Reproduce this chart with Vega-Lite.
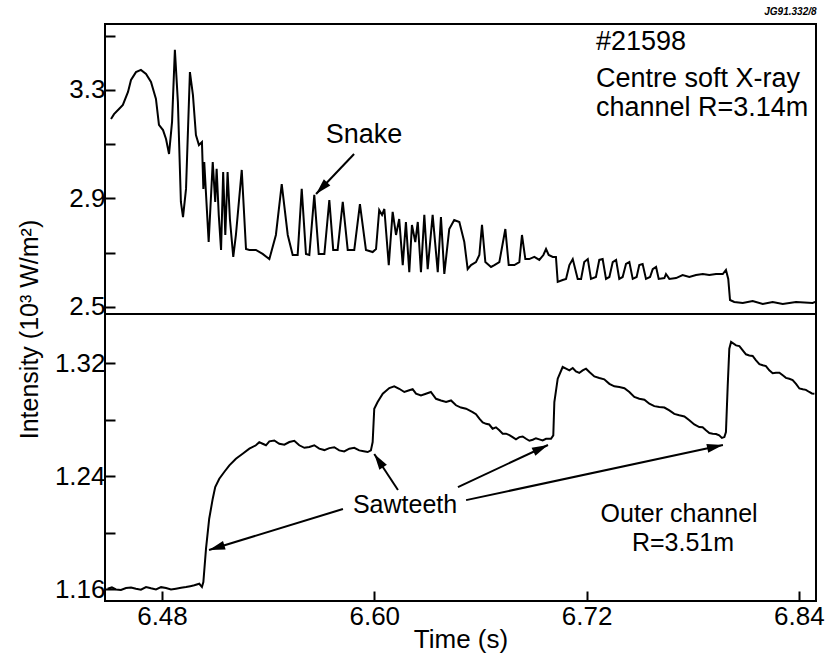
{
  "$schema": "https://vega.github.io/schema/vega-lite/v6.json",
  "background": "white",
  "padding": {"left": 18, "top": 5, "right": 5, "bottom": 5},
  "title": {"text": "Intensity (10³ W/m²)", "orient": "left", "anchor": "middle", "fontSize": 25, "fontWeight": "normal", "font": "Liberation Sans", "color": "black", "offset": 10},
  "config": {
    "font": "Liberation Sans",
    "view": {"stroke": "black", "strokeWidth": 2},
    "axis": {"zindex": 1, "domain": false, "grid": false, "tickColor": "black", "tickWidth": 2, "tickSize": -10, "labelPadding": 10, "labelFontSize": 26, "labelColor": "black", "labelFont": "Liberation Sans", "titleFontSize": 26, "titleFontWeight": "normal", "titleColor": "black", "titleFont": "Liberation Sans", "labelOverlap": false},
    "text": {"font": "Liberation Sans", "color": "black"}
  },
  "datasets": {
    "centre": [
      {"t":6.4512,"v":3.193},{"t":6.4529,"v":3.211},{"t":6.4557,"v":3.230},{"t":6.4579,"v":3.245},{"t":6.4608,"v":3.293},{"t":6.4625,"v":3.337},{"t":6.4653,"v":3.366},{"t":6.4681,"v":3.374},{"t":6.4710,"v":3.359},{"t":6.4738,"v":3.330},{"t":6.4766,"v":3.267},{"t":6.4783,"v":3.171},{"t":6.4806,"v":3.152},{"t":6.4823,"v":3.119},{"t":6.4840,"v":3.064},{"t":6.4857,"v":3.182},{"t":6.4873,"v":3.448},{"t":6.4890,"v":3.256},{"t":6.4907,"v":2.887},{"t":6.4919,"v":2.831},{"t":6.4936,"v":2.935},{"t":6.4958,"v":3.366},{"t":6.4975,"v":3.282},{"t":6.4992,"v":3.134},{"t":6.5009,"v":3.097},{"t":6.5026,"v":3.108},{"t":6.5034,"v":2.935},{"t":6.5039,"v":3.034},{"t":6.5064,"v":2.739},{"t":6.5087,"v":3.034},{"t":6.5101,"v":2.887},{"t":6.5109,"v":3.009},{"t":6.5121,"v":2.839},{"t":6.5134,"v":2.710},{"t":6.5146,"v":2.997},{"t":6.5158,"v":2.765},{"t":6.5171,"v":2.997},{"t":6.5184,"v":2.824},{"t":6.5203,"v":2.684},{"t":6.5218,"v":2.765},{"t":6.5251,"v":3.005},{"t":6.5275,"v":2.713},{"t":6.5294,"v":2.710},{"t":6.5331,"v":2.710},{"t":6.5369,"v":2.695},{"t":6.5407,"v":2.676},{"t":6.5444,"v":2.765},{"t":6.5477,"v":2.953},{"t":6.5511,"v":2.765},{"t":6.5539,"v":2.691},{"t":6.5567,"v":2.691},{"t":6.5590,"v":2.935},{"t":6.5614,"v":2.695},{"t":6.5633,"v":2.691},{"t":6.5661,"v":2.913},{"t":6.5686,"v":2.695},{"t":6.5718,"v":2.695},{"t":6.5746,"v":2.894},{"t":6.5768,"v":2.710},{"t":6.5793,"v":2.710},{"t":6.5822,"v":2.887},{"t":6.5850,"v":2.710},{"t":6.5887,"v":2.710},{"t":6.5919,"v":2.879},{"t":6.5953,"v":2.710},{"t":6.5991,"v":2.702},{"t":6.6010,"v":2.713},{"t":6.6028,"v":2.857},{"t":6.6044,"v":2.839},{"t":6.6057,"v":2.861},{"t":6.6082,"v":2.654},{"t":6.6104,"v":2.850},{"t":6.6123,"v":2.765},{"t":6.6141,"v":2.824},{"t":6.6161,"v":2.654},{"t":6.6179,"v":2.813},{"t":6.6198,"v":2.628},{"t":6.6213,"v":2.802},{"t":6.6232,"v":2.739},{"t":6.6246,"v":2.813},{"t":6.6264,"v":2.628},{"t":6.6283,"v":2.839},{"t":6.6302,"v":2.639},{"t":6.6330,"v":2.839},{"t":6.6359,"v":2.628},{"t":6.6377,"v":2.831},{"t":6.6396,"v":2.621},{"t":6.6424,"v":2.787},{"t":6.6452,"v":2.820},{"t":6.6481,"v":2.813},{"t":6.6509,"v":2.739},{"t":6.6528,"v":2.639},{"t":6.6547,"v":2.654},{"t":6.6575,"v":2.665},{"t":6.6594,"v":2.691},{"t":6.6609,"v":2.802},{"t":6.6628,"v":2.665},{"t":6.6660,"v":2.647},{"t":6.6679,"v":2.654},{"t":6.6707,"v":2.665},{"t":6.6741,"v":2.787},{"t":6.6760,"v":2.654},{"t":6.6792,"v":2.654},{"t":6.6820,"v":2.665},{"t":6.6835,"v":2.765},{"t":6.6854,"v":2.676},{"t":6.6876,"v":2.676},{"t":6.6905,"v":2.684},{"t":6.6933,"v":2.673},{"t":6.6956,"v":2.691},{"t":6.6971,"v":2.713},{"t":6.6986,"v":2.691},{"t":6.7009,"v":2.684},{"t":6.7027,"v":2.684},{"t":6.7037,"v":2.592},{"t":6.7065,"v":2.599},{"t":6.7084,"v":2.603},{"t":6.7103,"v":2.654},{"t":6.7122,"v":2.676},{"t":6.7150,"v":2.603},{"t":6.7169,"v":2.603},{"t":6.7187,"v":2.665},{"t":6.7207,"v":2.676},{"t":6.7225,"v":2.603},{"t":6.7253,"v":2.610},{"t":6.7272,"v":2.673},{"t":6.7291,"v":2.676},{"t":6.7310,"v":2.603},{"t":6.7329,"v":2.610},{"t":6.7348,"v":2.665},{"t":6.7367,"v":2.673},{"t":6.7385,"v":2.603},{"t":6.7404,"v":2.610},{"t":6.7423,"v":2.658},{"t":6.7442,"v":2.665},{"t":6.7461,"v":2.603},{"t":6.7483,"v":2.610},{"t":6.7498,"v":2.654},{"t":6.7517,"v":2.658},{"t":6.7536,"v":2.603},{"t":6.7559,"v":2.610},{"t":6.7574,"v":2.639},{"t":6.7593,"v":2.647},{"t":6.7608,"v":2.603},{"t":6.7640,"v":2.606},{"t":6.7649,"v":2.621},{"t":6.7668,"v":2.603},{"t":6.7706,"v":2.606},{"t":6.7743,"v":2.617},{"t":6.7781,"v":2.610},{"t":6.7819,"v":2.617},{"t":6.7857,"v":2.621},{"t":6.7894,"v":2.617},{"t":6.7932,"v":2.621},{"t":6.7970,"v":2.621},{"t":6.7988,"v":2.636},{"t":6.8001,"v":2.603},{"t":6.8011,"v":2.525},{"t":6.8035,"v":2.518},{"t":6.8083,"v":2.514},{"t":6.8139,"v":2.521},{"t":6.8196,"v":2.510},{"t":6.8252,"v":2.518},{"t":6.8309,"v":2.510},{"t":6.8384,"v":2.518},{"t":6.8478,"v":2.514},{"t":6.8493,"v":2.518}
    ],
    "outer": [
      {"t":6.4493,"v":1.1603},{"t":6.4517,"v":1.1612},{"t":6.4540,"v":1.1598},{"t":6.4568,"v":1.1594},{"t":6.4597,"v":1.1608},{"t":6.4625,"v":1.1612},{"t":6.4653,"v":1.1603},{"t":6.4681,"v":1.1596},{"t":6.4710,"v":1.1615},{"t":6.4738,"v":1.1606},{"t":6.4766,"v":1.1598},{"t":6.4795,"v":1.1614},{"t":6.4823,"v":1.1608},{"t":6.4851,"v":1.1597},{"t":6.4879,"v":1.1603},{"t":6.4908,"v":1.1609},{"t":6.4936,"v":1.1615},{"t":6.4960,"v":1.1621},{"t":6.4983,"v":1.1627},{"t":6.5011,"v":1.1638},{"t":6.5026,"v":1.1615},{"t":6.5034,"v":1.1650},{"t":6.5049,"v":1.1886},{"t":6.5067,"v":1.2098},{"t":6.5087,"v":1.2240},{"t":6.5101,"v":1.2322},{"t":6.5124,"v":1.2381},{"t":6.5152,"v":1.2429},{"t":6.5181,"v":1.2476},{"t":6.5218,"v":1.2523},{"t":6.5256,"v":1.2558},{"t":6.5294,"v":1.2594},{"t":6.5331,"v":1.2618},{"t":6.5350,"v":1.2640},{"t":6.5369,"v":1.2629},{"t":6.5388,"v":1.2618},{"t":6.5407,"v":1.2646},{"t":6.5435,"v":1.2652},{"t":6.5463,"v":1.2629},{"t":6.5492,"v":1.2622},{"t":6.5520,"v":1.2641},{"t":6.5548,"v":1.2650},{"t":6.5576,"v":1.2618},{"t":6.5605,"v":1.2600},{"t":6.5633,"v":1.2606},{"t":6.5661,"v":1.2618},{"t":6.5689,"v":1.2594},{"t":6.5718,"v":1.2584},{"t":6.5746,"v":1.2598},{"t":6.5774,"v":1.2604},{"t":6.5802,"v":1.2582},{"t":6.5830,"v":1.2574},{"t":6.5859,"v":1.2594},{"t":6.5887,"v":1.2600},{"t":6.5915,"v":1.2582},{"t":6.5940,"v":1.2576},{"t":6.5963,"v":1.2570},{"t":6.5981,"v":1.2582},{"t":6.5991,"v":1.2641},{"t":6.6000,"v":1.2877},{"t":6.6019,"v":1.2924},{"t":6.6048,"v":1.2983},{"t":6.6085,"v":1.3023},{"t":6.6113,"v":1.3035},{"t":6.6141,"v":1.3018},{"t":6.6170,"v":1.2995},{"t":6.6198,"v":1.3007},{"t":6.6217,"v":1.3015},{"t":6.6236,"v":1.2983},{"t":6.6264,"v":1.2970},{"t":6.6292,"v":1.2983},{"t":6.6320,"v":1.2995},{"t":6.6349,"v":1.2947},{"t":6.6377,"v":1.2935},{"t":6.6406,"v":1.2924},{"t":6.6434,"v":1.2935},{"t":6.6462,"v":1.2901},{"t":6.6490,"v":1.2885},{"t":6.6519,"v":1.2877},{"t":6.6556,"v":1.2853},{"t":6.6575,"v":1.2838},{"t":6.6594,"v":1.2806},{"t":6.6613,"v":1.2780},{"t":6.6632,"v":1.2770},{"t":6.6650,"v":1.2765},{"t":6.6669,"v":1.2735},{"t":6.6688,"v":1.2745},{"t":6.6707,"v":1.2724},{"t":6.6726,"v":1.2700},{"t":6.6745,"v":1.2700},{"t":6.6764,"v":1.2690},{"t":6.6782,"v":1.2676},{"t":6.6801,"v":1.2660},{"t":6.6820,"v":1.2676},{"t":6.6839,"v":1.2680},{"t":6.6858,"v":1.2664},{"t":6.6877,"v":1.2650},{"t":6.6896,"v":1.2657},{"t":6.6914,"v":1.2668},{"t":6.6933,"v":1.2660},{"t":6.6952,"v":1.2652},{"t":6.6971,"v":1.2664},{"t":6.6999,"v":1.2664},{"t":6.7012,"v":1.2688},{"t":6.7018,"v":1.2924},{"t":6.7037,"v":1.3089},{"t":6.7065,"v":1.3172},{"t":6.7084,"v":1.3160},{"t":6.7103,"v":1.3148},{"t":6.7122,"v":1.3165},{"t":6.7140,"v":1.3141},{"t":6.7159,"v":1.3130},{"t":6.7178,"v":1.3148},{"t":6.7197,"v":1.3160},{"t":6.7216,"v":1.3136},{"t":6.7244,"v":1.3105},{"t":6.7272,"v":1.3094},{"t":6.7300,"v":1.3085},{"t":6.7329,"v":1.3053},{"t":6.7357,"v":1.3035},{"t":6.7385,"v":1.3030},{"t":6.7414,"v":1.3022},{"t":6.7442,"v":1.2995},{"t":6.7470,"v":1.2960},{"t":6.7498,"v":1.2947},{"t":6.7527,"v":1.2940},{"t":6.7555,"v":1.2912},{"t":6.7583,"v":1.2895},{"t":6.7611,"v":1.2889},{"t":6.7640,"v":1.2885},{"t":6.7668,"v":1.2865},{"t":6.7696,"v":1.2840},{"t":6.7724,"v":1.2830},{"t":6.7753,"v":1.2822},{"t":6.7781,"v":1.2795},{"t":6.7809,"v":1.2765},{"t":6.7837,"v":1.2747},{"t":6.7856,"v":1.2745},{"t":6.7875,"v":1.2724},{"t":6.7894,"v":1.2705},{"t":6.7913,"v":1.2700},{"t":6.7932,"v":1.2698},{"t":6.7950,"v":1.2688},{"t":6.7965,"v":1.2670},{"t":6.7979,"v":1.2676},{"t":6.7988,"v":1.2712},{"t":6.7998,"v":1.3042},{"t":6.8007,"v":1.3301},{"t":6.8017,"v":1.3349},{"t":6.8045,"v":1.3325},{"t":6.8064,"v":1.3320},{"t":6.8083,"v":1.3290},{"t":6.8101,"v":1.3262},{"t":6.8120,"v":1.3254},{"t":6.8139,"v":1.3250},{"t":6.8158,"v":1.3219},{"t":6.8177,"v":1.3192},{"t":6.8196,"v":1.3184},{"t":6.8214,"v":1.3178},{"t":6.8233,"v":1.3148},{"t":6.8252,"v":1.3128},{"t":6.8271,"v":1.3131},{"t":6.8290,"v":1.3132},{"t":6.8309,"v":1.3113},{"t":6.8327,"v":1.3095},{"t":6.8346,"v":1.3089},{"t":6.8365,"v":1.3080},{"t":6.8384,"v":1.3053},{"t":6.8403,"v":1.3020},{"t":6.8422,"v":1.3014},{"t":6.8440,"v":1.3010},{"t":6.8459,"v":1.2995},{"t":6.8474,"v":1.2985},{"t":6.8488,"v":1.2983}
    ],
    "arrows": [
      {"name":"snake","t":6.5886,"v":3.064,"t2":6.5671,"v2":2.916},
      {"name":"saw1","t":6.5823,"v":1.2167,"t2":6.5066,"v2":1.1877},
      {"name":"saw2","t":6.6134,"v":1.2301,"t2":6.6000,"v2":1.2556},
      {"name":"saw3","t":6.6473,"v":1.2322,"t2":6.6982,"v2":1.2620},
      {"name":"saw4","t":6.6519,"v":1.2230,"t2":6.7971,"v2":1.2620}
    ],
    "notes": [
      {"group":"topLeft","label":"#21598","t":6.7253,"v":3.477},
      {"group":"topLeft","label":"Centre soft X-ray","t":6.7253,"v":3.342},
      {"group":"topLeft","label":"channel R=3.14m","t":6.7253,"v":3.234},
      {"group":"topMid","label":"Snake","t":6.5942,"v":3.134},
      {"group":"ref","label":"JG91.332/8","t":6.8500,"v":3.5878},
      {"group":"bottomMid","label":"Sawteeth","t":6.6174,"v":1.2195},
      {"group":"bottomMid","label":"Outer channel","t":6.7723,"v":1.2131},
      {"group":"bottomMid","label":"R=3.51m","t":6.7745,"v":1.1926}
    ]
  },
  "bounds": "flush",
  "spacing": 0,
  "vconcat": [
    {
      "width": 711,
      "height": 290,
      "layer": [
        {
          "data": {"name": "centre"},
          "mark": {"type": "line", "color": "black", "strokeWidth": 2, "clip": true},
          "encoding": {
            "x": {"field": "t", "type": "quantitative", "scale": {"domain": [6.4478, 6.8497], "nice": false, "zero": false}, "axis": null},
            "y": {"field": "v", "type": "quantitative", "scale": {"domain": [2.4734, 3.5435], "nice": false, "zero": false},
                  "axis": {"title": null, "values": [2.5, 2.7, 2.9, 3.1, 3.3, 3.5], "labelExpr": "round(datum.value*10) % 4 == 1 ? format(datum.value, '.1f') : ''"}}
          }
        },
        {
          "data": {"name": "arrows"},
          "transform": [{"filter": "datum.name == 'snake'"}],
          "mark": {"type": "rule", "color": "black", "strokeWidth": 2},
          "encoding": {
            "x": {"field": "t", "type": "quantitative", "scale": {"domain": [6.4478, 6.8497], "nice": false, "zero": false}},
            "y": {"field": "v", "type": "quantitative", "scale": {"domain": [2.4734, 3.5435], "nice": false, "zero": false}},
            "x2": {"field": "t2"},
            "y2": {"field": "v2"}
          }
        },
        {
          "data": {"name": "arrows"},
          "transform": [{"filter": "datum.name == 'snake'"}],
          "mark": {"type": "point", "shape": "M0,0L-2,-0.56L-2,0.56Z", "filled": true, "color": "black", "opacity": 1, "size": 256, "angle": 133.5},
          "encoding": {
            "x": {"field": "t2", "type": "quantitative", "scale": {"domain": [6.4478, 6.8497], "nice": false, "zero": false}},
            "y": {"field": "v2", "type": "quantitative", "scale": {"domain": [2.4734, 3.5435], "nice": false, "zero": false}}
          }
        },
        {
          "data": {"name": "notes"},
          "transform": [{"filter": "datum.group == 'topLeft'"}],
          "mark": {"type": "text", "align": "left", "baseline": "middle", "fontSize": 27},
          "encoding": {
            "x": {"field": "t", "type": "quantitative", "scale": {"domain": [6.4478, 6.8497], "nice": false, "zero": false}},
            "y": {"field": "v", "type": "quantitative", "scale": {"domain": [2.4734, 3.5435], "nice": false, "zero": false}},
            "text": {"field": "label"}
          }
        },
        {
          "data": {"name": "notes"},
          "transform": [{"filter": "datum.group == 'topMid'"}],
          "mark": {"type": "text", "align": "center", "baseline": "middle", "fontSize": 27},
          "encoding": {
            "x": {"field": "t", "type": "quantitative", "scale": {"domain": [6.4478, 6.8497], "nice": false, "zero": false}},
            "y": {"field": "v", "type": "quantitative", "scale": {"domain": [2.4734, 3.5435], "nice": false, "zero": false}},
            "text": {"field": "label"}
          }
        },
        {
          "data": {"name": "notes"},
          "transform": [{"filter": "datum.group == 'ref'"}],
          "mark": {"type": "text", "align": "right", "baseline": "middle", "fontSize": 10, "fontWeight": "bold", "fontStyle": "italic"},
          "encoding": {
            "x": {"field": "t", "type": "quantitative", "scale": {"domain": [6.4478, 6.8497], "nice": false, "zero": false}},
            "y": {"field": "v", "type": "quantitative", "scale": {"domain": [2.4734, 3.5435], "nice": false, "zero": false}},
            "text": {"field": "label"}
          }
        }
      ]
    },
    {
      "width": 711,
      "height": 287,
      "layer": [
        {
          "data": {"name": "outer"},
          "mark": {"type": "line", "color": "black", "strokeWidth": 2, "clip": true},
          "encoding": {
            "x": {"field": "t", "type": "quantitative", "scale": {"domain": [6.4478, 6.8497], "nice": false, "zero": false},
                  "axis": {"title": "Time (s)", "values": [6.48, 6.6, 6.72, 6.84], "format": ".2f", "labelPadding": 12, "titlePadding": -3}},
            "y": {"field": "v", "type": "quantitative", "scale": {"domain": [1.1516, 1.3547], "nice": false, "zero": false},
                  "axis": {"title": null, "values": [1.16, 1.2, 1.24, 1.28, 1.32], "labelExpr": "round(datum.value*100) % 8 == 4 ? format(datum.value, '.2f') : ''"}}
          }
        },
        {
          "data": {"name": "arrows"},
          "transform": [{"filter": "datum.name != 'snake'"}],
          "mark": {"type": "rule", "color": "black", "strokeWidth": 2},
          "encoding": {
            "x": {"field": "t", "type": "quantitative", "scale": {"domain": [6.4478, 6.8497], "nice": false, "zero": false}},
            "y": {"field": "v", "type": "quantitative", "scale": {"domain": [1.1516, 1.3547], "nice": false, "zero": false}},
            "x2": {"field": "t2"},
            "y2": {"field": "v2"}
          }
        },
        {
          "data": {"name": "arrows"},
          "transform": [{"filter": "datum.name == 'saw1'"}],
          "mark": {"type": "point", "shape": "M0,0L-2,-0.56L-2,0.56Z", "filled": true, "color": "black", "opacity": 1, "size": 256, "angle": 163},
          "encoding": {
            "x": {"field": "t2", "type": "quantitative", "scale": {"domain": [6.4478, 6.8497], "nice": false, "zero": false}},
            "y": {"field": "v2", "type": "quantitative", "scale": {"domain": [1.1516, 1.3547], "nice": false, "zero": false}}
          }
        },
        {
          "data": {"name": "arrows"},
          "transform": [{"filter": "datum.name == 'saw2'"}],
          "mark": {"type": "point", "shape": "M0,0L-2,-0.56L-2,0.56Z", "filled": true, "color": "black", "opacity": 1, "size": 256, "angle": 236.3},
          "encoding": {
            "x": {"field": "t2", "type": "quantitative", "scale": {"domain": [6.4478, 6.8497], "nice": false, "zero": false}},
            "y": {"field": "v2", "type": "quantitative", "scale": {"domain": [1.1516, 1.3547], "nice": false, "zero": false}}
          }
        },
        {
          "data": {"name": "arrows"},
          "transform": [{"filter": "datum.name == 'saw3'"}],
          "mark": {"type": "point", "shape": "M0,0L-2,-0.56L-2,0.56Z", "filled": true, "color": "black", "opacity": 1, "size": 256, "angle": 335},
          "encoding": {
            "x": {"field": "t2", "type": "quantitative", "scale": {"domain": [6.4478, 6.8497], "nice": false, "zero": false}},
            "y": {"field": "v2", "type": "quantitative", "scale": {"domain": [1.1516, 1.3547], "nice": false, "zero": false}}
          }
        },
        {
          "data": {"name": "arrows"},
          "transform": [{"filter": "datum.name == 'saw4'"}],
          "mark": {"type": "point", "shape": "M0,0L-2,-0.56L-2,0.56Z", "filled": true, "color": "black", "opacity": 1, "size": 256, "angle": 347.9},
          "encoding": {
            "x": {"field": "t2", "type": "quantitative", "scale": {"domain": [6.4478, 6.8497], "nice": false, "zero": false}},
            "y": {"field": "v2", "type": "quantitative", "scale": {"domain": [1.1516, 1.3547], "nice": false, "zero": false}}
          }
        },
        {
          "data": {"name": "notes"},
          "transform": [{"filter": "datum.group == 'bottomMid'"}],
          "mark": {"type": "text", "align": "center", "baseline": "middle", "fontSize": 25},
          "encoding": {
            "x": {"field": "t", "type": "quantitative", "scale": {"domain": [6.4478, 6.8497], "nice": false, "zero": false}},
            "y": {"field": "v", "type": "quantitative", "scale": {"domain": [1.1516, 1.3547], "nice": false, "zero": false}},
            "text": {"field": "label"}
          }
        }
      ]
    }
  ]
}
